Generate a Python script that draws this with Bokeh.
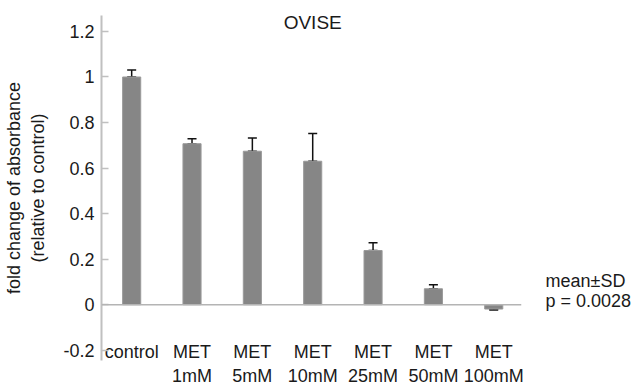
from bokeh.plotting import figure
from bokeh.models import FixedTicker, Span, Label, Whisker, ColumnDataSource, TeeHead, LinearAxis
from bokeh.embed import file_html
from bokeh.resources import INLINE

categories = ["control", "MET\n1mM", "MET\n5mM", "MET\n10mM", "MET\n25mM", "MET\n50mM", "MET\n100mM"]
means = [1.0, 0.707, 0.674, 0.63, 0.238, 0.07, -0.019]
sds = [0.031, 0.022, 0.058, 0.122, 0.034, 0.018, 0.004]
y_ticks = [-0.2, 0, 0.2, 0.4, 0.6, 0.8, 1, 1.2]
y_labels = ["-0.2", "0", "0.2", "0.4", "0.6", "0.8", "1", "1.2"]
title_text = "OVISE"
note_lines = ["mean\u00b1SD", "p = 0.0028"]
note_pos = [0.103, 0.017]

FONT = "Liberation Sans"
TXT = "#1a1a1a"
FS = "18px"

xs = list(range(len(categories)))
lower = [m - s if m < 0 else m for m, s in zip(means, sds)]
upper = [m if m < 0 else m + s for m, s in zip(means, sds)]
src = ColumnDataSource(dict(x=xs, top=means, lower=lower, upper=upper))

p = figure(width=634, height=388, output_backend="svg", toolbar_location=None,
           x_range=(-0.5, 6.46), y_range=(-0.245, 1.27),
           min_border_left=101, min_border_right=112, min_border_top=15, min_border_bottom=25)
p.outline_line_color = None
p.xgrid.visible = False
p.ygrid.visible = False
p.background_fill_color = "white"

p.vbar(x="x", top="top", bottom=0, width=0.3, source=src,
       fill_color="#868686", line_color="#9a9a9a", line_width=1)

w = Whisker(base="x", lower="lower", upper="upper", source=src,
            line_color="#111111", line_width=1.5)
w.upper_head = TeeHead(size=9, line_color="#111111", line_width=1.5)
w.lower_head = TeeHead(size=9, line_color="#111111", line_width=1.5)
p.add_layout(w)

p.add_layout(Span(location=0, dimension="width", line_color="#b4b4b4", line_width=1.5))

# y axis
ya = p.yaxis[0]
ya.ticker = FixedTicker(ticks=y_ticks)
ya.major_label_overrides = {t: l for t, l in zip(y_ticks, y_labels)}
ya.axis_line_color = "#c0c0c0"
ya.axis_line_width = 2
ya.major_tick_line_color = "#c0c0c0"
ya.major_tick_line_width = 1.5
ya.major_tick_in = 7
ya.major_tick_out = 0
ya.minor_tick_line_color = None
ya.major_label_standoff = 7
ya.major_label_text_font = FONT
ya.major_label_text_font_size = FS
ya.major_label_text_color = TXT
ya.axis_label = "fold change of absorbance\n(relative to control)"
ya.axis_label_text_font = FONT
ya.axis_label_text_font_size = FS
ya.axis_label_text_font_style = "normal"
ya.axis_label_text_color = TXT
ya.axis_label_standoff = 12

# x axis
xa = p.xaxis[0]
xa.ticker = FixedTicker(ticks=xs)
xa.major_label_overrides = {i: c for i, c in zip(xs, categories)}
xa.axis_line_color = None
xa.major_tick_line_color = None
xa.minor_tick_line_color = None
xa.major_label_standoff = -25
xa.major_label_text_font = FONT
xa.major_label_text_font_size = FS
xa.major_label_text_color = TXT

# right-side notes
ra = LinearAxis(ticker=FixedTicker(ticks=note_pos),
                major_label_overrides={v: t for v, t in zip(note_pos, note_lines)})
ra.axis_line_color = None
ra.major_tick_line_color = None
ra.minor_tick_line_color = None
ra.major_tick_in = 0
ra.major_tick_out = 0
ra.major_label_standoff = 24
ra.major_label_text_font = FONT
ra.major_label_text_font_size = FS
ra.major_label_text_color = TXT
p.add_layout(ra, "right")

p.add_layout(Label(x=3, y=1.24, text=title_text, text_align="center", text_baseline="middle",
                   text_font=FONT, text_font_size="19px", text_color=TXT))

open("out.html", "w").write(file_html(p, INLINE))
